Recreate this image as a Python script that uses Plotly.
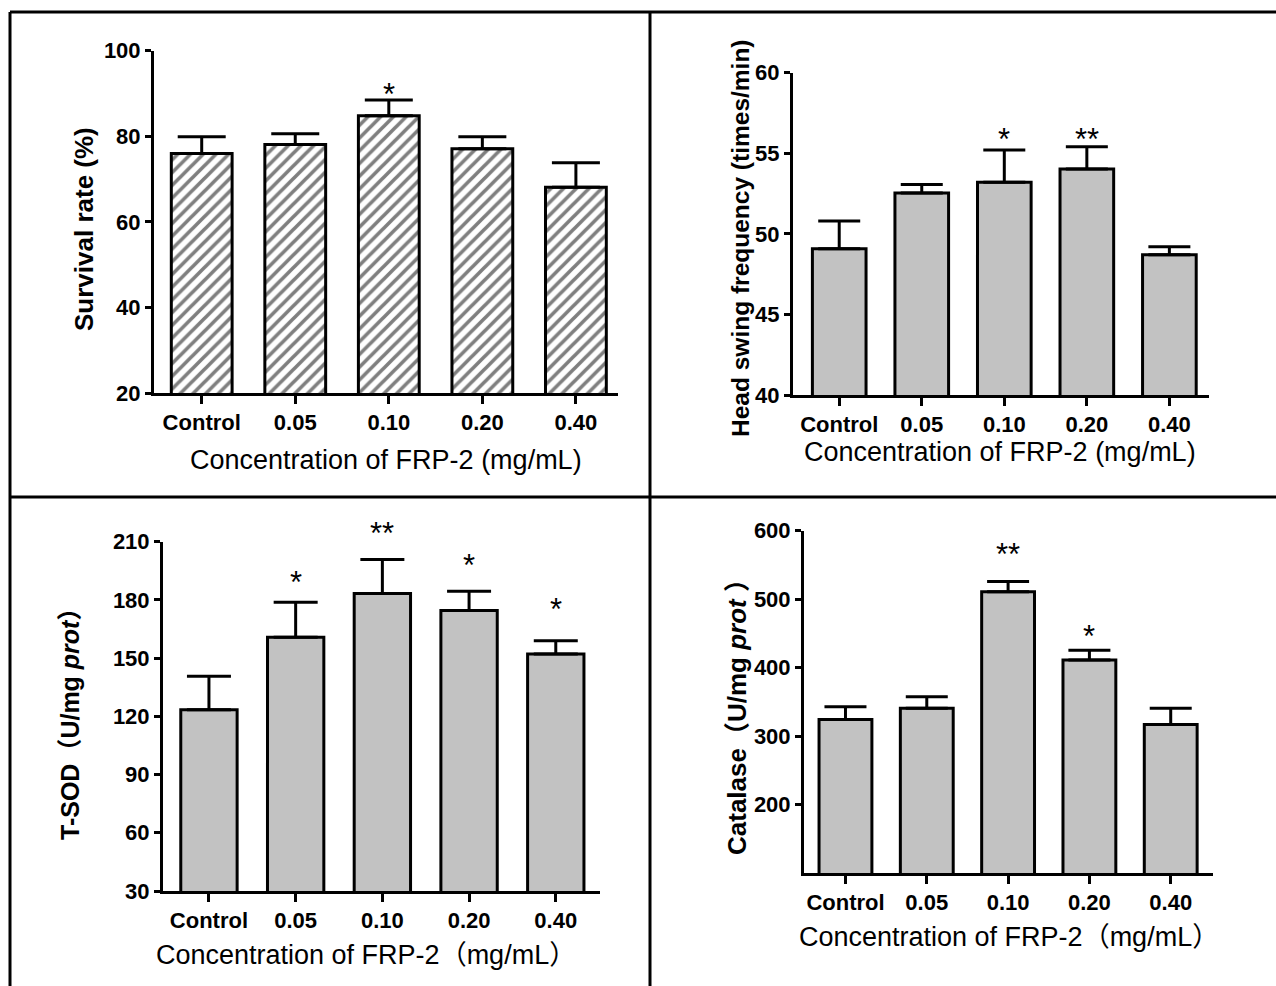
import plotly.graph_objects as go

W, H = 1276, 986

categories = ["Control", "0.05", "0.10", "0.20", "0.40"]

# Panel A: survival rate (%)
survival = [76.0, 78.1, 84.8, 77.1, 68.1]
survival_err = [3.9, 2.5, 3.7, 2.8, 5.7]
survival_sig = ["", "", "*", "", ""]
survival_sig_y = [None, None, 91.3, None, None]

# Panel B: head swing frequency (times/min)
swing = [49.07, 52.54, 53.2, 54.03, 48.7]
swing_err = [1.72, 0.52, 2.0, 1.37, 0.5]
swing_sig = ["", "", "*", "**", ""]
swing_sig_y = [None, None, 56.3, 56.3, None]

# Panel C: T-SOD (U/mg prot)
tsod = [123.4, 160.7, 183.3, 174.5, 152.1]
tsod_err = [17.2, 18.1, 17.5, 10.0, 6.8]
tsod_sig = ["", "*", "**", "*", "*"]
tsod_sig_y = [None, 192.8, 217.7, 201.6, 178.9]

# Panel D: Catalase (U/mg prot)
catalase = [324.3, 340.8, 510.7, 411.2, 317.0]
catalase_err = [18.5, 16.5, 15.0, 14.0, 23.8]
catalase_sig = ["", "", "**", "*", ""]
catalase_sig_y = [None, None, 575.0, 455.0, None]

y_ticks_a = [20, 40, 60, 80, 100]
y_ticks_b = [40, 45, 50, 55, 60]
y_ticks_c = [30, 60, 90, 120, 150, 180, 210]
y_ticks_d = [200, 300, 400, 500, 600]

TICKF = "Liberation Sans, Arial, sans-serif"
SANS = "Liberation Sans, Arial, Noto Sans CJK SC, sans-serif"
GRAY = "#c2c2c2"


def px(x):
    return x / W


def py(y):
    return 1 - y / H


panels = [
    dict(vals=survival, err=survival_err, sig=survival_sig, sig_y=survival_sig_y,
         ticks=y_ticks_a, yr=[20, 100], xpx=(154, 618), ypx=(50.7, 393),
         xr=[-0.51, 4.45], hatch=True, cap=24,
         ytitle="<b>Survival rate (%)</b>", ytc=(84, 229), ytsize=26,
         xtitle="Concentration of FRP-2 (mg/mL)", xtc=(386, 460)),
    dict(vals=swing, err=swing_err, sig=swing_sig, sig_y=swing_sig_y,
         ticks=y_ticks_b, yr=[40, 60], xpx=(793, 1209), ypx=(72.7, 395),
         xr=[-0.56, 4.48], hatch=False, cap=21,
         ytitle="<b>Head swing frequency (times/min)</b>", ytc=(740, 238), ytsize=24.5,
         xtitle="Concentration of FRP-2 (mg/mL)", xtc=(1000, 452)),
    dict(vals=tsod, err=tsod_err, sig=tsod_sig, sig_y=tsod_sig_y,
         ticks=y_ticks_c, yr=[30, 210], xpx=(163, 600), ypx=(541.7, 891),
         xr=[-0.53, 4.51], hatch=False, cap=22,
         ytitle="<b>T-SOD（U/mg <i>prot</i>）</b>", ytc=(70, 718), ytsize=25,
         xtitle="Concentration of FRP-2（mg/mL）", xtc=(366, 955)),
    dict(vals=catalase, err=catalase_err, sig=catalase_sig, sig_y=catalase_sig_y,
         ticks=y_ticks_d, yr=[100, 600], xpx=(804, 1213), ypx=(530.7, 873),
         xr=[-0.51, 4.52], hatch=False, cap=21,
         ytitle="<b>Catalase（U/mg <i>prot</i> ）</b>", ytc=(737, 711), ytsize=26,
         xtitle="Concentration of FRP-2（mg/mL）", xtc=(1009, 937)),
]

fig = go.Figure()
annotations = []
layout_axes = {}

for i, p in enumerate(panels, start=1):
    xa = "x" if i == 1 else f"x{i}"
    ya = "y" if i == 1 else f"y{i}"
    if p["hatch"]:
        marker = dict(color="white", line=dict(color="black", width=3),
                      pattern=dict(shape="/", fgcolor="black", bgcolor="white",
                                   size=9, solidity=0.4))
    else:
        marker = dict(color=GRAY, line=dict(color="black", width=3))
    fig.add_trace(go.Bar(
        x=categories, y=p["vals"], xaxis=xa, yaxis=ya, width=0.65,
        marker=marker,
        error_y=dict(type="data", symmetric=False, array=p["err"],
                     arrayminus=[0] * len(p["err"]), color="black",
                     thickness=3, width=p["cap"]),
        showlegend=False, hoverinfo="skip",
    ))
    px_per_unit = (p["ypx"][1] - p["ypx"][0]) / (p["yr"][1] - p["yr"][0])
    for idx, (s, sy) in enumerate(zip(p["sig"], p["sig_y"])):
        if s:
            yanchor_val = min(sy, p["yr"][1])
            extra = (sy - yanchor_val) * px_per_unit
            annotations.append(dict(
                x=idx, y=yanchor_val, xref=xa, yref=ya, text=s, showarrow=False,
                yanchor="middle", yshift=-7 + extra,
                font=dict(family=SANS, size=31, color="black")))
    axkey_x = "xaxis" if i == 1 else f"xaxis{i}"
    axkey_y = "yaxis" if i == 1 else f"yaxis{i}"
    layout_axes[axkey_x] = dict(
        domain=[px(p["xpx"][0]), px(p["xpx"][1])], anchor=ya,
        type="category", range=p["xr"], showline=True, linecolor="black",
        linewidth=3, ticks="outside", ticklen=8, tickwidth=3, tickcolor="black",
        showgrid=False, zeroline=False, automargin=False,
        tickfont=dict(family=TICKF, size=22, color="black", weight="bold"))
    layout_axes[axkey_y] = dict(
        domain=[py(p["ypx"][1]), py(p["ypx"][0])], anchor=xa,
        range=p["yr"], tickvals=p["ticks"], showline=True, linecolor="black",
        linewidth=3, ticks="outside", ticklen=6, tickwidth=3, tickcolor="black",
        showgrid=False, zeroline=False, automargin=False,
        tickfont=dict(family=TICKF, size=22, color="black", weight="bold"))
    annotations.append(dict(
        x=px(p["ytc"][0]), y=py(p["ytc"][1]), xref="paper", yref="paper",
        text=p["ytitle"], textangle=-90, showarrow=False,
        xanchor="center", yanchor="middle",
        font=dict(family=SANS, size=p["ytsize"], color="black")))
    annotations.append(dict(
        x=px(p["xtc"][0]), y=py(p["xtc"][1]), xref="paper", yref="paper",
        text=p["xtitle"], showarrow=False, xanchor="center", yanchor="middle",
        font=dict(family=SANS, size=27, color="black")))

frame = dict(color="black", width=3)
shapes = [
    dict(type="line", xref="paper", yref="paper", x0=px(10), x1=1, y0=py(12), y1=py(12), line=frame),
    dict(type="line", xref="paper", yref="paper", x0=px(10), x1=px(10), y0=py(12), y1=0, line=frame),
    dict(type="line", xref="paper", yref="paper", x0=px(650), x1=px(650), y0=py(12), y1=0, line=frame),
    dict(type="line", xref="paper", yref="paper", x0=px(10), x1=1, y0=py(497), y1=py(497), line=frame),
]

fig.update_layout(
    width=W, height=H, margin=dict(l=0, r=0, t=0, b=0, pad=0, autoexpand=False),
    paper_bgcolor="white", plot_bgcolor="white",
    annotations=annotations, shapes=shapes,
    **layout_axes,
)

fig.write_html("out.html", config={"displayModeBar": False},
               post_script="document.body.style.margin='0';")
